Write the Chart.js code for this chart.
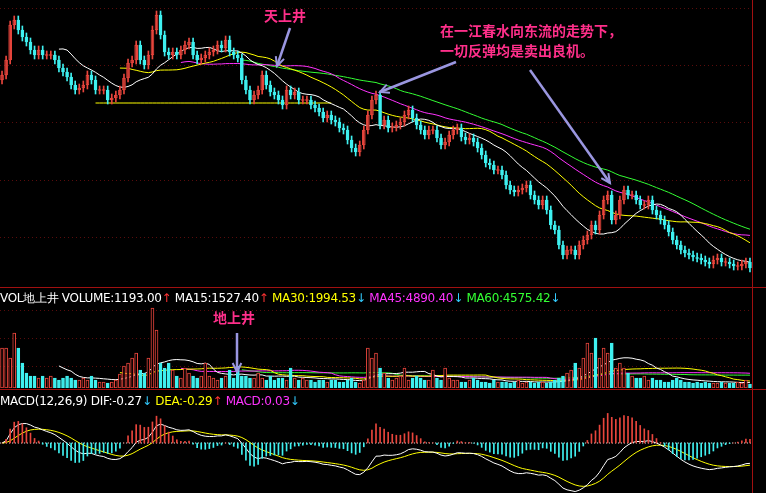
<!DOCTYPE html>
<html><head><meta charset="utf-8">
<script src="https://cdn.jsdelivr.net/npm/chart.js@4/dist/chart.umd.min.js"></script>
<style>
body{margin:0;background:#000;width:766px;height:493px;overflow:hidden;position:relative;font-family:"DejaVu Sans",sans-serif}
canvas{position:absolute;left:0}
.t{position:absolute;font-size:12px;white-space:nowrap;letter-spacing:-0.3px}
.a{position:absolute;font-family:"Noto Sans CJK SC";color:#ff2f8a;font-weight:bold;font-size:14px;white-space:nowrap}
</style></head><body>
<canvas id="p" width="752" height="283" style="top:0"></canvas>
<canvas id="v" width="752" height="98" style="top:290px"></canvas>
<canvas id="m" width="752" height="88" style="top:405px"></canvas>
<canvas id="o" width="766" height="493" style="top:0"></canvas>
<div class="t" style="left:0;top:290px"><span style="color:#fff">VOL地上井 VOLUME:1193.00</span><span style="color:#f33">↑</span> <span style="color:#fff">MA15:1527.40</span><span style="color:#f33">↑</span> <span style="color:#ff0">MA30:1994.53</span><span style="color:#3cf">↓</span> <span style="color:#f3f">MA45:4890.40</span><span style="color:#3cf">↓</span> <span style="color:#3f3">MA60:4575.42</span><span style="color:#3cf">↓</span></div>
<div class="t" style="left:0;top:394px"><span style="color:#fff">MACD(12,26,9) DIF:-0.27</span><span style="color:#3cf">↓</span> <span style="color:#ff0">DEA:-0.29</span><span style="color:#f33">↑</span> <span style="color:#f3f">MACD:0.03</span><span style="color:#3cf">↓</span></div>
<div class="a" style="left:264px;top:5px">天上井</div>
<div class="a" style="left:440px;top:20px">在一江春水向东流的走势下，</div>
<div class="a" style="left:440px;top:40px">一切反弹均是卖出良机。</div>
<div class="a" style="left:213px;top:307px">地上井</div>
<script>
const closes=[22.5,24.0,27.5,28.0,27.0,26.3,25.8,25.0,24.5,25.0,24.5,24.5,24.5,24.0,23.2,22.8,22.3,21.5,21.0,21.2,21.5,22.5,22.0,21.0,21.0,21.0,20.0,20.2,20.5,21.0,22.2,23.7,24.0,25.5,24.0,23.5,24.5,27.0,28.5,26.5,24.8,24.5,24.8,24.5,25.0,25.5,25.8,24.5,24.0,24.2,24.5,24.8,25.0,25.5,25.2,26.0,24.8,24.5,24.2,22.0,21.0,20.0,20.5,21.0,22.5,21.5,20.8,20.5,20.0,19.5,21.0,20.5,20.8,20.0,
20.0,20.0,19.5,19.2,18.8,18.2,18.5,18.0,17.8,17.2,17.0,16.0,15.2,14.8,15.5,17.0,18.5,20.0,20.5,17.5,18.0,
17.2,17.3,17.5,17.8,18.5,19.0,18.2,17.5,17.0,16.5,17.0,17.0,16.2,15.5,15.8,16.5,17.0,17.2,16.3,16.0,16.2,15.8,15.2,14.5,13.7,13.5,13.0,13.0,12.5,11.5,11.0,10.8,11.0,11.2,11.5,10.5,10.0,9.5,10.0,9.0,7.5,7.0,5.5,4.5,5.0,5.0,4.5,5.5,6.0,6.5,7.5,7.0,8.5,10.0,10.5,8.0,8.5,10.0,11.0,10.5,10.5,10.0,9.5,9.5,10.0,9.0,8.5,8.0,7.5,6.8,6.0,5.5,5.0,4.7,4.5,4.3,4.2,4.0,3.8,3.6,4.0,4.2,3.8,3.8,3.6,3.4,3.4,3.6,3.8,3.2];
const volumes=[40,40,30,55,40,25,15,12,12,10, 12,10,12,10,8,10,12,10,8,8, 10,8,12,8,6,6,5,6,8,14, 22,25,30,35,18,15,30,80,58,25,
20,25,18,12,10,20,15,12,10,12, 25,12,10,8,10,12,18,10,22,12, 12,10,10,15,10,8,12,8,10,10, 8,20,10,8,10,8,8,6,8,8,
6,8,8,6,6,8,10,6,5,8, 40,30,35,20,15,10,8,10,12,20, 8,10,12,10,8,8,18,10,8,20, 10,8,8,6,6,8,10,8,6,6,
5,8,6,6,6,5,6,8,5,6, 6,5,6,6,5,6,8,10,12,15, 18,25,20,30,45,35,50,30,40,35, 45,20,25,20,15,12,10,10,12,8,
10,8,8,6,6,8,10,8,6,6, 5,6,5,6,5,5,5,6,5,5, 5,6,5,8,4];
const supportLevel=19.7, supportFrom=23, supportTo=81;
const maPeriods=[15,30,45,60];
const maColors=['#ffffff','#ffff00','#ff33ff','#33ff33'];

const n=closes.length, labels=closes.map((_,i)=>i);
const opens=closes.map((c,i)=>i?closes[i-1]:c-0.5);
const up=closes.map((c,i)=>c>=opens[i]);
const RED='#e8453c', CYAN='#3ff0f0';
function ma(a,p){return a.map((_,i)=>i<p-1?null:a.slice(i-p+1,i+1).reduce((s,x)=>s+x,0)/p);}
function ema(a,p){let k=2/(p+1),e=a[0];return a.map(x=>e=e+k*(x-e));}
Chart.defaults.animation=false;
const hidden={x:{display:false,offset:true},y:{display:false}};
const gridPlugin=(rows,col)=>({id:'g',beforeDatasetsDraw(c){const x=c.ctx,a=c.chartArea;x.save();x.strokeStyle=col;x.setLineDash([1,3]);rows.forEach(r=>{x.beginPath();x.moveTo(0,r+.5);x.lineTo(a.right,r+.5);x.stroke();});x.restore();}});
const lineDs=(d,col)=>({type:'line',data:d,borderColor:col,borderWidth:1,pointRadius:0,spanGaps:false});

new Chart(document.getElementById('p'),{type:'bar',data:{labels,datasets:[
 {data:closes.map((c,i)=>[Math.min(c,opens[i])-0.4,Math.max(c,opens[i])+0.4]),backgroundColor:up.map(u=>u?RED:CYAN),barThickness:1,grouped:false},
 {data:closes.map((c,i)=>{let a=Math.min(c,opens[i]),b=Math.max(c,opens[i]);return b-a<0.1?[a-0.05,a+0.05]:[a,b];}),backgroundColor:up.map(u=>u?'#000':CYAN),borderColor:up.map(u=>u?RED:CYAN),borderWidth:1,borderSkipped:false,barThickness:3,grouped:false},
 ...maPeriods.map((p,k)=>lineDs(ma(closes,p),maColors[k])),
 lineDs(labels.map(i=>i>=supportFrom&&i<=supportTo?supportLevel:null),'#ffff00')
]},options:{responsive:false,plugins:{legend:{display:false},tooltip:{enabled:false}},scales:{x:hidden.x,y:{display:false,min:1.7,max:30}}},plugins:[gridPlugin([8,65,122,180,237],'#5a0c0c')]});

new Chart(document.getElementById('v'),{type:'bar',data:{labels,datasets:[
 {data:volumes,backgroundColor:up.map(u=>u?'#000':CYAN),borderColor:up.map(u=>u?RED:CYAN),borderWidth:1,borderSkipped:false,barThickness:3,grouped:false},
 ...maPeriods.map((p,k)=>lineDs(ma(volumes,p),maColors[k]))
]},options:{responsive:false,plugins:{legend:{display:false},tooltip:{enabled:false}},scales:{x:hidden.x,y:{display:false,min:0,max:98}}},plugins:[gridPlugin([20,48,76],'#5a0c0c')]});

const e12=ema(closes,12),e26=ema(closes,26),dif=e12.map((v,i)=>v-e26[i]),dea=ema(dif,9),hist=dif.map((v,i)=>2*(v-dea[i]));
const lo=Math.min(...dif)*1.03;
new Chart(document.getElementById('m'),{type:'bar',data:{labels,datasets:[
 {data:hist,backgroundColor:hist.map(h=>h>=0?RED:CYAN),barThickness:1},
 lineDs(dif,'#ffffff'),lineDs(dea,'#ffff00')
]},options:{responsive:false,plugins:{legend:{display:false},tooltip:{enabled:false}},scales:{x:hidden.x,y:{display:false,min:lo,max:-lo*38/50}}},
plugins:[{id:'z',beforeDatasetsDraw(c){const x=c.ctx,y=c.scales.y.getPixelForValue(0);x.save();x.strokeStyle='#ddd';x.setLineDash([1,2]);x.beginPath();x.moveTo(0,y);x.lineTo(c.chartArea.right,y);x.stroke();x.restore();}}]});

const o=document.getElementById('o').getContext('2d');
o.strokeStyle='#a01010';o.lineWidth=1;
[[0,287.5,766,287.5],[0,389.5,766,389.5],[752.5,0,752.5,493]].forEach(l=>{o.beginPath();o.moveTo(l[0],l[1]);o.lineTo(l[2],l[3]);o.stroke();});
function arrow(x1,y1,x2,y2){o.strokeStyle='#9a96e0';o.fillStyle='#9a96e0';o.lineWidth=2.5;o.beginPath();o.moveTo(x1,y1);o.lineTo(x2,y2);o.stroke();
 const a=Math.atan2(y2-y1,x2-x1),h=10;o.lineWidth=2;o.beginPath();o.moveTo(x2-h*Math.cos(a-0.45),y2-h*Math.sin(a-0.45));o.lineTo(x2,y2);o.lineTo(x2-h*Math.cos(a+0.45),y2-h*Math.sin(a+0.45));o.stroke();}
arrow(290,28,277,66);arrow(456,62,380,92);arrow(530,70,610,183);arrow(237,333,237,372);
</script></body></html>
